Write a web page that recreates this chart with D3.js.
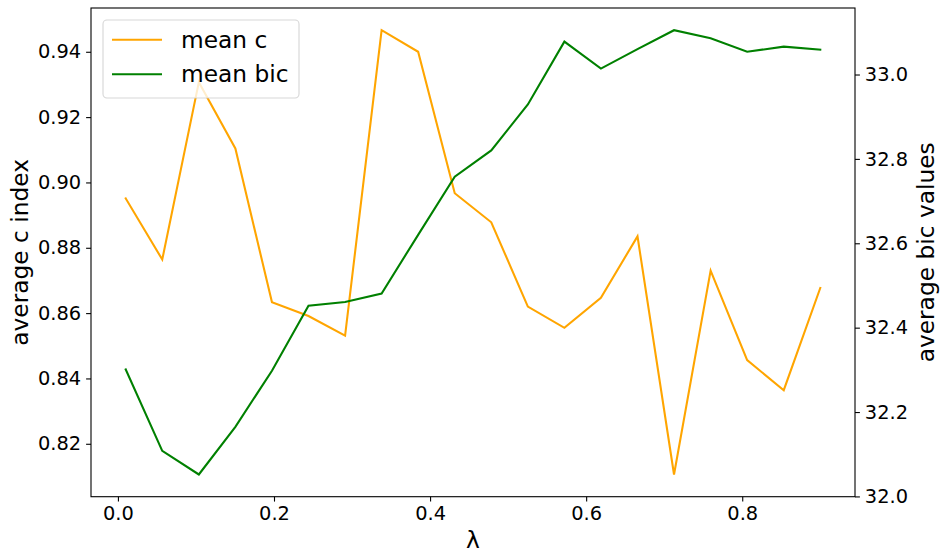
<!DOCTYPE html>
<html>
<head>
<meta charset="utf-8">
<script src="https://cdn.jsdelivr.net/npm/d3@7"></script>
<style>
  html, body { margin: 0; padding: 0; background: #fff; }
  svg { display: block; font-family: "DejaVu Sans", sans-serif; }
</style>
</head>
<body>
<svg id="chart" width="944" height="557"></svg>
<script>
// ---- data ----
const lambdas = [0.01, 0.0568, 0.1037, 0.1505, 0.1974, 0.2442, 0.2911, 0.3379, 0.3847, 0.4316,
                 0.4784, 0.5253, 0.5721, 0.6189, 0.6658, 0.7126, 0.7595, 0.8063, 0.8532, 0.9];
const meanC = [0.8951, 0.8764, 0.9307, 0.9104, 0.8633, 0.8591, 0.8531, 0.9466, 0.9400, 0.8967,
               0.8878, 0.8620, 0.8555, 0.8647, 0.8835, 0.8106, 0.8730, 0.8456, 0.8364, 0.8677];
const meanBic = [32.301, 32.108, 32.052, 32.165, 32.298, 32.452, 32.461, 32.481, 32.620, 32.758,
                 32.820, 32.929, 33.078, 33.014, 33.060, 33.105, 33.086, 33.054, 33.066, 33.059];
const xTicks = [0.0, 0.2, 0.4, 0.6, 0.8];
const leftTicks = [0.82, 0.84, 0.86, 0.88, 0.90, 0.92, 0.94];
const rightTicks = [32.0, 32.2, 32.4, 32.6, 32.8, 33.0];
const seriesNames = ["mean c", "mean bic"];
const seriesColors = ["orange", "green"];

// ---- layout ----
const L = 91, R = 855, T = 8, B = 496.7;
const svg = d3.select("#chart");

function padded(vals) {
  const [a, b] = d3.extent(vals);
  const m = (b - a) * 0.05;
  return [a - m, b + m];
}

const x = d3.scaleLinear().domain(padded(lambdas)).range([L, R]);
const yL = d3.scaleLinear().domain(padded(meanC)).range([B, T]);
const yR = d3.scaleLinear().domain(padded(meanBic)).range([B, T]);

const tickFont = "19.4px";
const labelFont = "23.3px";

// axes
const xAxis = d3.axisBottom(x).tickValues(xTicks).tickFormat(d3.format(".1f")).tickSizeOuter(0).tickSize(4.9).tickPadding(4.9);
const yAxisL = d3.axisLeft(yL).tickValues(leftTicks).tickFormat(d3.format(".2f")).tickSizeOuter(0).tickSize(4.9).tickPadding(4.9);
const yAxisR = d3.axisRight(yR).tickValues(rightTicks).tickFormat(d3.format(".1f")).tickSizeOuter(0).tickSize(4.9).tickPadding(4.9);

function styleAxis(g) {
  g.selectAll("path.domain").remove();
  g.selectAll("line").attr("stroke", "#000").attr("stroke-width", 1.1);
  g.selectAll("text").attr("fill", "#000").style("font-size", tickFont).style("font-family", "DejaVu Sans");
}

svg.append("g").attr("transform", `translate(0,${B})`).call(xAxis).call(styleAxis);
svg.append("g").attr("transform", `translate(${L},0)`).call(yAxisL).call(styleAxis);
svg.append("g").attr("transform", `translate(${R},0)`).call(yAxisR).call(styleAxis);

// lines
const lineC = d3.line().x((d, i) => x(lambdas[i])).y(d => yL(d));
const lineB = d3.line().x((d, i) => x(lambdas[i])).y(d => yR(d));

svg.append("path").datum(meanC).attr("d", lineC)
  .attr("fill", "none").attr("stroke", seriesColors[0]).attr("stroke-width", 2.08)
  .attr("stroke-linejoin", "miter").attr("stroke-linecap", "square");
svg.append("path").datum(meanBic).attr("d", lineB)
  .attr("fill", "none").attr("stroke", seriesColors[1]).attr("stroke-width", 2.08)
  .attr("stroke-linejoin", "miter").attr("stroke-linecap", "square");

// spines
svg.append("rect").attr("x", L).attr("y", T).attr("width", R - L).attr("height", B - T)
  .attr("fill", "none").attr("stroke", "#000").attr("stroke-width", 1.1);

// axis labels
svg.append("text").attr("x", (L + R) / 2).attr("y", 548)
  .attr("text-anchor", "middle").style("font-size", labelFont).text("λ");
svg.append("text").attr("transform", `translate(28,${(T + B) / 2}) rotate(-90)`)
  .attr("text-anchor", "middle").style("font-size", labelFont).text("average c index");
svg.append("text").attr("transform", `translate(934,${(T + B) / 2}) rotate(-90)`)
  .attr("text-anchor", "middle").style("font-size", labelFont).text("average bic values");

// legend
const lg = svg.append("g");
lg.append("rect").attr("x", 103).attr("y", 20).attr("width", 196).attr("height", 78)
  .attr("rx", 4).attr("ry", 4)
  .attr("fill", "rgba(255,255,255,0.8)").attr("stroke", "rgba(204,204,204,0.8)").attr("stroke-width", 1.1);
const rowsY = [39.7, 74.3];
seriesNames.forEach((name, i) => {
  lg.append("line").attr("x1", 112).attr("x2", 162).attr("y1", rowsY[i]).attr("y2", rowsY[i])
    .attr("stroke", seriesColors[i]).attr("stroke-width", 2.08);
  lg.append("text").attr("x", 181).attr("y", rowsY[i]).attr("dy", "0.35em")
    .style("font-size", labelFont).text(name);
});
</script>
</body>
</html>
